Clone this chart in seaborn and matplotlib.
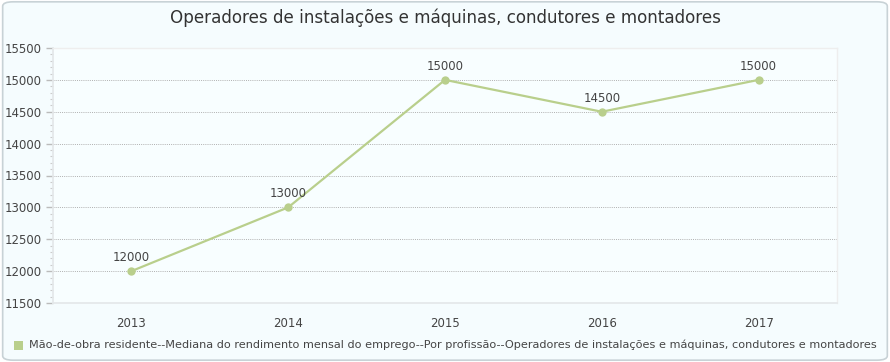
import matplotlib
matplotlib.use("Agg")
import matplotlib.pyplot as plt
import seaborn as sns
import pandas as pd
from matplotlib.patches import FancyBboxPatch
from matplotlib.ticker import MultipleLocator

years = ["2013", "2014", "2015", "2016", "2017"]
values = [12000, 13000, 15000, 14500, 15000]
title = "Operadores de instalações e máquinas, condutores e montadores"
series_name = ("Mão-de-obra residente--Mediana do rendimento mensal do emprego--"
               "Por profissão--Operadores de instalações e máquinas, condutores e montadores")

sns.set_theme(style="white")
plt.rcParams['font.family'] = ['DejaVu Sans']

line_color = "#b9cf8c"
bg = "#f5fcfe"
text_color = "#444444"

df = pd.DataFrame({"year": years, "value": values})
df["pos"] = range(len(years))

fig = plt.figure(figsize=(8.9, 3.62), dpi=100)
fig.patch.set_facecolor("white")
frame = FancyBboxPatch((0.003, 0.005), 0.994, 0.99,
                       boxstyle="round,pad=0,rounding_size=0.012",
                       transform=fig.transFigure, facecolor=bg,
                       edgecolor="#c8d2d6", linewidth=1.2, zorder=-10)
fig.patches.append(frame)

W, H = 890, 362
ax = fig.add_axes([53 / W, 1 - 303 / H, (837 - 53) / W, (303 - 48) / H])
ax.set_facecolor("#f8feff")

sns.lineplot(data=df, x="pos", y="value", ax=ax, color=line_color,
             linewidth=1.6, marker="o", markersize=6, markeredgewidth=0,
             legend=False, zorder=3)

for x, v in zip(df["pos"], values):
    ax.annotate(str(v), (x, v), xytext=(0, 5), textcoords="offset points",
                ha="center", va="bottom", fontsize=8.5, color=text_color)

ax.set_xlim(-0.5, len(years) - 0.5)
ax.set_ylim(11500, 15500)
ax.yaxis.set_major_locator(MultipleLocator(500))
ax.yaxis.set_minor_locator(MultipleLocator(100))
ax.set_xticks([i - 0.5 for i in range(len(years) + 1)])
ax.set_xticklabels([])
ax.set_xticks(range(len(years)), minor=True)
ax.set_xticklabels(years, minor=True)
ax.tick_params(axis="x", which="major", length=6, color="#999999", width=1)
ax.tick_params(axis="x", which="minor", length=0, pad=10, labelsize=8.5,
               labelcolor=text_color)
ax.tick_params(axis="y", which="major", length=5, color="#bbbbbb", width=1,
               labelsize=8.5, labelcolor=text_color, left=True, pad=3)
ax.tick_params(axis="y", which="minor", length=2, color="#cccccc", width=0.8,
               left=True)
ax.set_xlabel("")
ax.set_ylabel("")

ax.grid(axis="y", which="major", linestyle=(0, (1, 1.2)), color="#b0b0b0",
        linewidth=0.7)
for s in ["top", "right"]:
    ax.spines[s].set_color("#eeeeee")
    ax.spines[s].set_linewidth(1)
ax.spines["left"].set_color("#e4e8ea")
ax.spines["bottom"].set_color("#e4e8ea")

fig.text(0.5, 1 - 18 / H, title, ha="center", va="center", fontsize=12.1,
         color="#333333")

fig.patches.append(plt.Rectangle((14 / W, 1 - 350 / H), 9 / W, 9 / H,
                                 transform=fig.transFigure,
                                 facecolor=line_color, edgecolor="none"))
fig.text(29 / W, 1 - 345 / H, series_name, ha="left", va="center",
         fontsize=8.1, color=text_color)

fig.savefig("out.png", dpi=100, facecolor=fig.get_facecolor())
